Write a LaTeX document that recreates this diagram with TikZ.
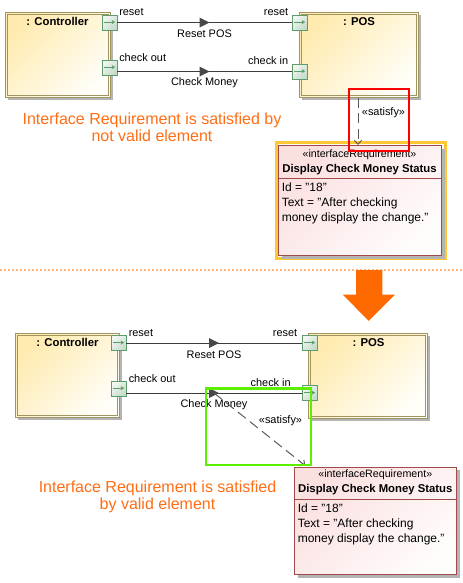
\documentclass[tikz,border=0pt]{standalone}
\usepackage{fontspec}
\setmainfont{Liberation Sans}
\usetikzlibrary{arrows.meta,shadows,decorations.markings}

\definecolor{clsborder}{HTML}{A09460}
\definecolor{clstop}{HTML}{FFEBB0}
\definecolor{clsbot}{HTML}{FFFEF8}
\definecolor{shadowgray}{HTML}{B4B4B4}
\definecolor{portborder}{HTML}{5E9C6E}
\definecolor{porttop}{HTML}{F2F7F2}
\definecolor{portbot}{HTML}{C6DCCB}
\definecolor{reqborder}{HTML}{A04A4A}
\definecolor{reqtop}{HTML}{FBE0E0}
\definecolor{reqbot}{HTML}{FFFCFC}
\definecolor{conn}{HTML}{3C3C3C}
\definecolor{flowfill}{HTML}{484848}
\definecolor{satline}{HTML}{5A5A5A}
\definecolor{notecol}{HTML}{FF6E14}
\definecolor{bigorange}{HTML}{FF6A00}
\definecolor{dotorange}{HTML}{FFB47C}
\definecolor{hlred}{HTML}{FF0000}
\definecolor{hlgreen}{HTML}{5CF000}
\definecolor{hlyellow}{HTML}{FFC832}

\newcommand\innerframe[1]{\draw[clsborder, line width=0.7pt] ([shift={(2,2)}]#1.north west) rectangle ([shift={(-2,-2)}]#1.south east);}

\begin{document}
\begin{tikzpicture}[x=0.75pt,y=-0.75pt,
  classbox/.style={draw=clsborder, line width=0.7pt, top color=clstop, bottom color=clsbot, shading angle=45,
    anchor=north west, inner sep=0pt,
    general shadow={fill=shadowgray, shadow xshift=2.25pt, shadow yshift=-2.25pt}},
  clstitle/.style={font=\bfseries\fontsize{8.5}{10}\selectfont, inner sep=0pt},
  portbox/.style={draw=portborder, line width=0.7pt, top color=porttop, bottom color=portbot, shading angle=45,
    minimum size=11.25pt, inner sep=0pt,
    path picture={\draw[portborder, line width=0.6pt, -{Stealth[length=2.6pt,width=3.2pt]}]
      ([xshift=-4pt,yshift=0.3pt]path picture bounding box.center) -- ([xshift=4.2pt,yshift=0.3pt]path picture bounding box.center);}},
  connline/.style={draw=conn, line width=0.75pt},
  itemflow/.style={postaction={decorate, decoration={markings,
    mark=at position 0.5 with {\fill[flowfill] (-5,-5) -- (5,0) -- (-5,5) -- cycle;}}}},
  lbl/.style={font=\fontsize{8.2}{10}\selectfont, inner sep=0pt, text height=6pt, text depth=1.6pt},
  satisfy/.style={draw=satline, line width=0.75pt, dash pattern=on 7.5pt off 4pt,
    -{Straight Barb[length=3pt,width=5.5pt]}},
  reqbox/.style={draw=reqborder, line width=0.75pt, top color=reqtop, bottom color=reqbot, shading angle=45,
    anchor=north west, inner sep=0pt,
    general shadow={fill=shadowgray, shadow xshift=2.25pt, shadow yshift=-2.25pt}},
  reqstereo/.style={font=\fontsize{8}{10}\selectfont, inner sep=0pt},
  reqtitle/.style={font=\bfseries\fontsize{8.5}{10}\selectfont, inner sep=0pt},
  reqattr/.style={font=\fontsize{9}{11}\selectfont, inner sep=0pt, anchor=base west},
  notetext/.style={font=\fontsize{12}{12.75}\selectfont, text=notecol, align=center, inner sep=0pt},
  hlbox/.style={anchor=north west, inner sep=0pt}
]
\fill[white] (0,0) rectangle (462,583);
\useasboundingbox (0,0) rectangle (462,583);

% ================= TOP =================
\node[classbox, minimum width=78.75pt, minimum height=63.75pt] (ctrl1) at (5,12) {};
\innerframe{ctrl1}
\node[classbox, minimum width=89.25pt, minimum height=63.75pt] (pos1) at (299,12) {};
\innerframe{pos1}
\node[clstitle] (ctrl1t) at (57.5,21.3) {: Controller};
\node[clstitle] (pos1t) at (359,21.3) {: POS};

\node[portbox] (c1r) at (109.5,22.5) {};
\node[portbox] (c1o) at (109.5,67.5) {};
\node[portbox] (p1r) at (299.5,22.5) {};
\node[portbox] (p1i) at (299.5,71.5) {};

\draw[connline, itemflow] (c1r.east) -- node[lbl, midway, yshift=-9.2pt] (rp1) {Reset POS} (p1r.west);
\draw[connline, itemflow] (c1o.east |- p1i.west) -- node[lbl, midway, yshift=-8.6pt] (cm1) {Check Money} (p1i.west);

\node[lbl, anchor=west] (l1a) at (119,12.3) {reset};
\node[lbl, anchor=west] (l1b) at (119,58.3) {check out};
\node[lbl, anchor=east] (l1c) at (288.5,12.3) {reset};
\node[lbl, anchor=east] (l1d) at (288.5,62) {check in};

\node[notetext] (note1) at (152,127.5) {Interface Requirement is satisfied by\\not valid element};

% requirement (top)
\node[hlbox, draw=hlyellow, line width=2pt, minimum width=126.4pt, minimum height=87pt] (hly) at (275.3,141) {};
\node[reqbox, minimum width=122.25pt, minimum height=82.5pt] (req1) at (278,145) {};
\node[reqstereo] (req1s) at (359.5,154.3) {«interfaceRequirement»};
\node[reqtitle] (req1t) at (359.5,169.3) {Display Check Money Status};
\draw[reqborder, line width=0.75pt] ([yshift=-24.75pt]req1.north west) -- ([yshift=-24.75pt]req1.north east);
\node[reqattr] (req1a) at (281.5,191.7) {Id = "18"};
\node[reqattr] (req1b) at (281.5,206.7) {Text = "After checking};
\node[reqattr] (req1c) at (281.5,221.7) {money display the change."};

\coordinate (s1x) at (358,0);
\draw[satisfy] (pos1.south -| s1x) -- (req1.north -| s1x);
\node[lbl] (sat1) at (383.5,112.5) {«satisfy»};

\node[hlbox, draw=hlred, line width=1.6pt, minimum width=45.2pt, minimum height=46.2pt] (hlr) at (347.8,88.3) {};

% separator and arrow
\coordinate (sepl) at (0,270);
\coordinate (sepr) at (462,270);
\draw[dotorange, line width=1.5pt, dash pattern=on 1.5pt off 1.5pt] (sepl) -- (sepr);
\fill[bigorange] (356,270) -- (382.3,270) -- (382.3,294.5) -- (395,294.5) -- (368.7,320.8) -- (342.6,294.5) -- (356,294.5) -- cycle;

% ================= BOTTOM =================
\node[classbox, minimum width=78pt, minimum height=63pt] (ctrl2) at (15,333) {};
\innerframe{ctrl2}
\node[classbox, minimum width=89.25pt, minimum height=63.75pt] (pos2) at (308,333) {};
\innerframe{pos2}
\node[clstitle] (ctrl2t) at (67.5,342.3) {: Controller};
\node[clstitle] (pos2t) at (368.5,342.3) {: POS};

\node[portbox] (c2r) at (118.5,343) {};
\node[portbox] (c2o) at (118.5,388.5) {};
\node[portbox] (p2r) at (309.5,343) {};
\node[portbox] (p2i) at (309.5,393) {};

\draw[connline, itemflow] (c2r.east) -- node[lbl, midway, yshift=-9.6pt] (rp2) {Reset POS} (p2r.west);
\draw[connline, itemflow] (c2o.east |- p2i.west) -- coordinate[midway] (cmid2) node[lbl, midway, yshift=-9pt] (cm2) {Check Money} (p2i.west);

\node[lbl, anchor=west] (l2a) at (128.5,333.3) {reset};
\node[lbl, anchor=west] (l2b) at (128.5,379.3) {check out};
\node[lbl, anchor=east] (l2c) at (297.5,333.3) {reset};
\node[lbl, anchor=east] (l2d) at (291,383.3) {check in};

\node[notetext] (note2) at (157.5,497) {Interface Requirement is satisfied\\by valid element};

% requirement (bottom)
\node[reqbox, minimum width=121.5pt, minimum height=80.5pt] (req2) at (294.3,466.7) {};
\node[reqstereo] (req2s) at (375.3,474.5) {«interfaceRequirement»};
\node[reqtitle] (req2t) at (375.3,490) {Display Check Money Status};
\draw[reqborder, line width=0.75pt] ([yshift=-24.5pt]req2.north west) -- ([yshift=-24.5pt]req2.north east);
\node[reqattr] (req2a) at (297.5,512.5) {Id = "18"};
\node[reqattr] (req2b) at (297.5,527.5) {Text = "After checking};
\node[reqattr] (req2c) at (297.5,542.5) {money display the change."};

\draw[satisfy] (cmid2) -- ([shift={(11,-1)}]req2.north west);
\node[lbl] (sat2) at (280.5,420.5) {«satisfy»};

\node[hlbox, draw=hlgreen, line width=1.75pt, minimum width=78.6pt, minimum height=57.5pt] (hlg) at (204.7,387.2) {};
\end{tikzpicture}
\end{document}
